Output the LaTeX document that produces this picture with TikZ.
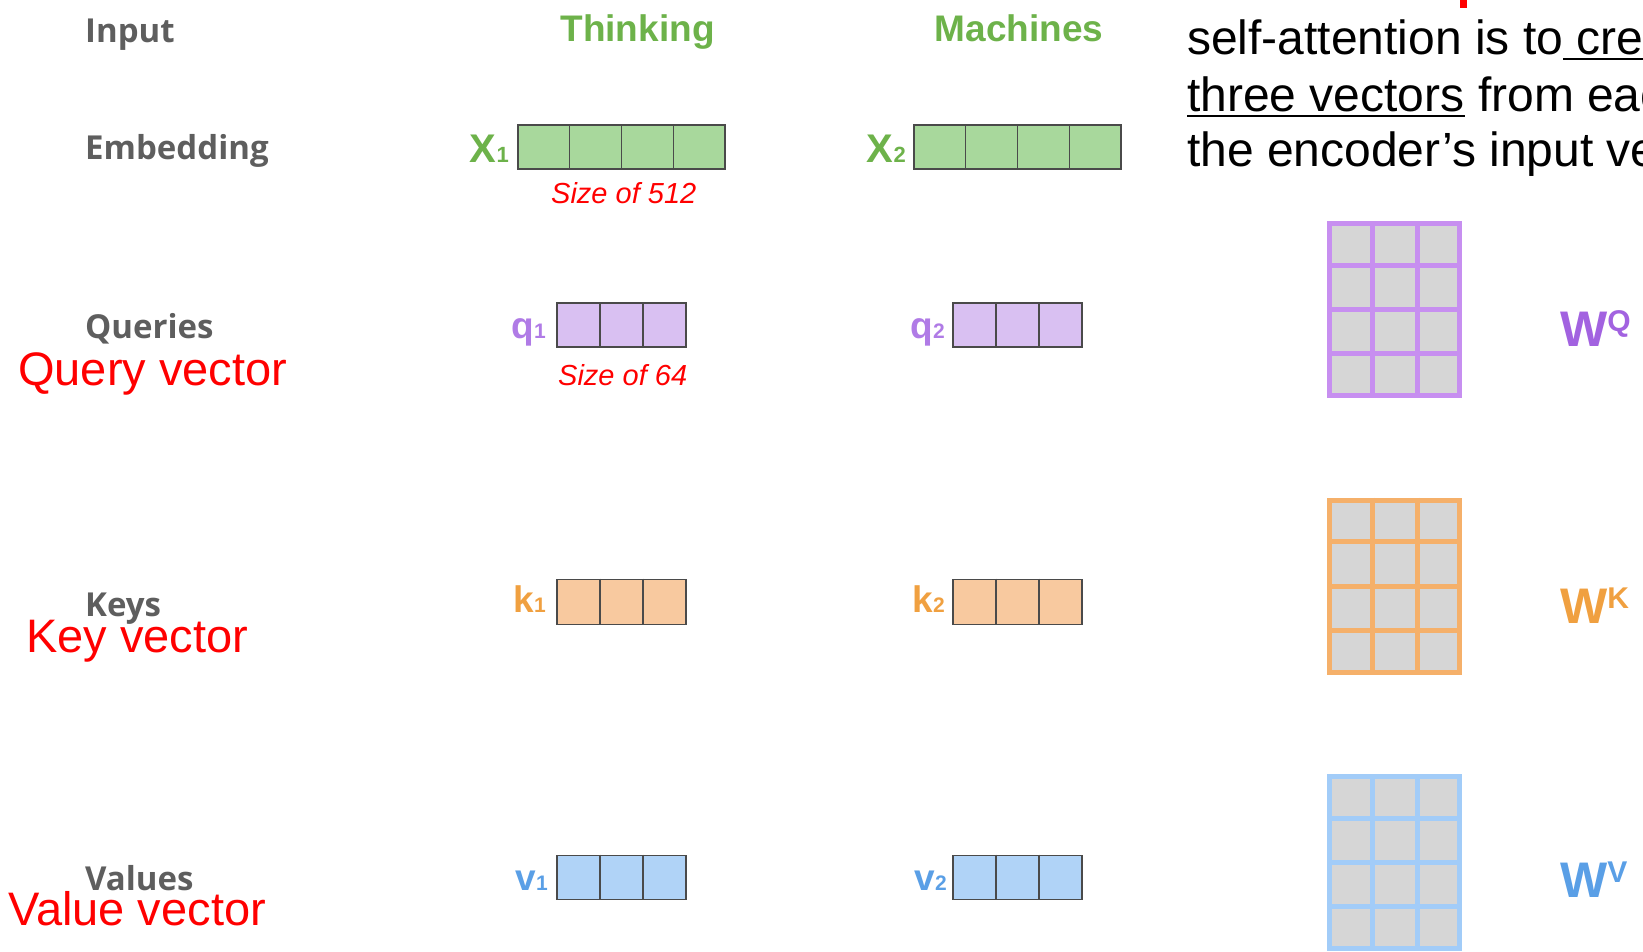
\documentclass[tikz,border=0pt]{standalone}
\usepackage{fontspec}
\setmainfont{Liberation Sans}
\newfontfamily\glab{Open Sans}
\usetikzlibrary{calc}
\definecolor{glabc}{HTML}{5E5E5E}
\definecolor{greentxt}{HTML}{6DB24A}
\definecolor{greenfill}{HTML}{A8D89C}
\definecolor{purpletxt}{HTML}{B07BE6}
\definecolor{purplew}{HTML}{A262E0}
\definecolor{purplefill}{HTML}{D9C0F2}
\definecolor{orangetxt}{HTML}{F0A040}
\definecolor{orangefill}{HTML}{F8C99F}
\definecolor{bluetxt}{HTML}{5A9FE6}
\definecolor{bluefill}{HTML}{B0D3F7}
\definecolor{vecline}{HTML}{4A4A4A}
\definecolor{matpurple}{HTML}{C78FF0}
\definecolor{matorange}{HTML}{F5B06A}
\definecolor{matblue}{HTML}{A2CCF8}
\definecolor{matgray}{HTML}{D6D6D6}
\newcommand\myul[1]{\sbox0{#1}\rlap{\rule[-5.5pt]{\wd0}{2.5pt}}\usebox0}
\newcommand\fs[1]{\fontsize{#1}{#1}\selectfont}
\begin{document}
\begin{tikzpicture}[x=1pt,y=-1pt,
  glabel/.style={anchor=base west, inner sep=0pt, font=\glab\bfseries\fs{33}, text=glabc},
  rlabel/.style={anchor=base west, inner sep=0pt, font=\fs{47}, text=red},
  sizelabel/.style={anchor=base west, inner sep=0pt, font=\itshape\fs{29}, text=red},
  wordlabel/.style={anchor=base, inner sep=0pt, font=\bfseries\fs{37}, text=greentxt},
  bodytext/.style={anchor=base west, inner sep=0pt, font=\fs{48}, text=black},
  veclabel/.style={anchor=base east, inner sep=0pt, font=\bfseries},
  vecbox/.style={draw=vecline, line width=1.6pt, inner sep=0pt, minimum height=44pt},
  vecfour/.style={vecbox, minimum width=207pt, fill=greenfill},
  vecthree/.style={vecbox, minimum width=129pt},
  cellline/.style={draw=vecline, line width=1.6pt},
  matbox/.style={line width=5pt, inner sep=0pt, minimum width=130pt, minimum height=172pt, fill=matgray},
  wlabel/.style={anchor=base west, inner sep=0pt, font=\bfseries}]
\useasboundingbox (0,0) rectangle (1643,952);
\clip (0,0) rectangle (1643,952);

% row labels
\node[glabel] (lin) at (85,43) {Input};
\node[glabel] (lemb) at (85,160) {Embedding};
\node[glabel] (lq) at (85,338) {Queries};
\node[glabel] (lk) at (85,616) {Keys};
\node[glabel] (lv) at (85,890) {Values};

\node[rlabel] (rq) at (18,385) {Query vector};
\node[rlabel] (rk) at (26,652) {Key vector};
\node[rlabel] (rv) at (8,925) {Value vector};

% words
\node[wordlabel] (w1) at (637.5,42) {Thinking};
\node[wordlabel] (w2) at (1019,42) {Machines};

% embeddings
\node[vecfour] (x1) at (621.5,147) {};
\node[vecfour] (x2) at (1017.5,147) {};
\foreach \v in {x1,x2}{
  \foreach \k in {1,2,3}
    \draw[cellline] ($(\v.north west)!\k/4!(\v.north east)$) -- ($(\v.south west)!\k/4!(\v.south east)$);
}
\node[veclabel, text=greentxt] (x1l) at (509,163) {\fs{40}X\fs{22}1};
\node[veclabel, text=greentxt] (x2l) at (906,163) {\fs{40}X\fs{22}2};
\node[sizelabel] (s512) at (551,204) {Size of 512};

% queries, keys, values
\node[vecthree, fill=purplefill] (q1) at (621.5,325) {};
\node[vecthree, fill=purplefill] (q2) at (1017.5,325) {};
\node[vecthree, fill=orangefill, minimum height=45pt] (k1) at (621.5,602) {};
\node[vecthree, fill=orangefill, minimum height=45pt] (k2) at (1017.5,602) {};
\node[vecthree, fill=bluefill] (v1) at (621.5,877.5) {};
\node[vecthree, fill=bluefill] (v2) at (1017.5,877.5) {};
\foreach \v in {q1,q2,k1,k2,v1,v2}{
  \foreach \k in {1,2}
    \draw[cellline] ($(\v.north west)!\k/3!(\v.north east)$) -- ($(\v.south west)!\k/3!(\v.south east)$);
}
\node[veclabel, text=purpletxt] (q1l) at (546,338) {\fs{37}q\fs{21}1};
\node[veclabel, text=purpletxt] (q2l) at (945,338) {\fs{37}q\fs{21}2};
\node[veclabel, text=orangetxt] (k1l) at (546,612) {\fs{37}k\fs{21}1};
\node[veclabel, text=orangetxt] (k2l) at (945,612) {\fs{37}k\fs{21}2};
\node[veclabel, text=bluetxt] (v1l) at (548,890) {\fs{37}v\fs{21}1};
\node[veclabel, text=bluetxt] (v2l) at (947,890) {\fs{37}v\fs{21}2};
\node[sizelabel] (s64) at (558,385) {Size of 64};

% weight matrices
\node[matbox, draw=matpurple] (wq) at (1394.5,309.5) {};
\node[matbox, draw=matorange] (wk) at (1394.5,586) {};
\node[matbox, draw=matblue] (wv) at (1394.5,862.5) {};
\foreach \m/\c in {wq/matpurple, wk/matorange, wv/matblue}{
  \foreach \k in {1,2}
    \draw[\c, line width=5pt] ($(\m.north west)!\k/3!(\m.north east)$) -- ($(\m.south west)!\k/3!(\m.south east)$);
  \foreach \k in {1,2,3}
    \draw[\c, line width=5pt] ($(\m.north west)!\k/4!(\m.south west)$) -- ($(\m.north east)!\k/4!(\m.south east)$);
}
\node[wlabel, text=purplew] (wql) at (1560,346) {\fs{50}W\raisebox{15pt}{\fs{30}Q}};
\node[wlabel, text=orangetxt] (wkl) at (1560,623) {\fs{50}W\raisebox{15pt}{\fs{30}K}};
\node[wlabel, text=bluetxt] (wvl) at (1560,897) {\fs{50}W\raisebox{15pt}{\fs{30}V}};

% top right text
\fill[red] (1460,0) rectangle (1467,8);
\node[bodytext] (t1) at (1187,55) {self-attention is to\myul{\ create}};
\node[bodytext] (t2) at (1187,112) {\myul{three vectors} from each of};
\node[bodytext] (t3) at (1187,167) {the encoder’s input vectors};
\end{tikzpicture}
\end{document}
